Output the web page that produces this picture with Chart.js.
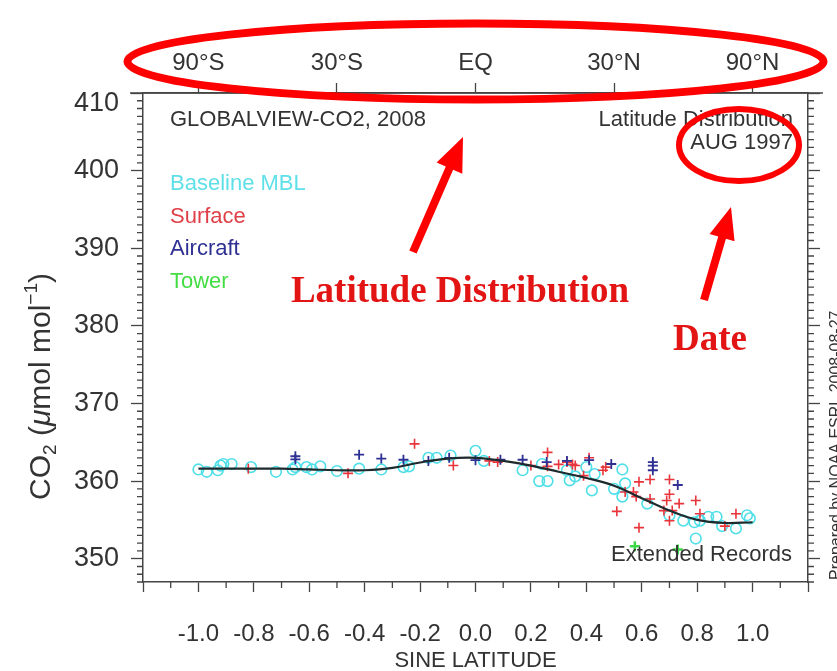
<!DOCTYPE html>
<html>
<head>
<meta charset="utf-8">
<script src="https://cdn.jsdelivr.net/npm/chart.js@4.4.1/dist/chart.umd.min.js"></script>
<style>
html,body{margin:0;padding:0;background:#fff;}
#wrap{width:837px;height:671px;}
</style>
</head>
<body>
<div id="wrap"><canvas id="co2Chart" width="837" height="671"></canvas></div>
<script>
// DATA (sine latitude, CO2 umol/mol) - GLOBALVIEW-CO2 Aug 1997

// reference MBL curve
const curveLat = [-1.0,-0.9,-0.8,-0.7,-0.6,-0.5,-0.4,-0.3,-0.2,-0.1,0.0,0.1,0.2,0.3,0.4,0.5,0.6,0.7,0.8,0.9,1.0];
const curveCO2 = [361.6,361.6,361.6,361.6,361.5,361.4,361.4,361.7,362.4,362.9,363.0,362.6,362.0,361.2,360.4,359.4,357.8,356.2,355.0,354.6,354.7];

// Baseline MBL sites
const mblLat = [-1.00,-0.97,-0.93,-0.92,-0.91,-0.88,-0.81,-0.72,-0.66,-0.65,-0.61,-0.59,-0.56,-0.50,-0.42,-0.34,-0.26,-0.24,-0.17,-0.14,-0.09,0.00,0.03,0.17,0.23,0.24,0.26,0.33,0.34,0.36,0.40,0.42,0.43,0.50,0.53,0.53,0.54,0.62,0.70,0.75,0.79,0.795,0.81,0.84,0.87,0.89,0.94,0.98,0.99];
const mblCO2 = [361.5,361.2,361.4,362.0,362.2,362.2,361.8,361.2,361.5,361.8,361.8,361.5,361.9,361.3,361.6,361.5,361.8,361.9,363.0,363.0,363.3,363.9,362.6,361.4,360.0,362.2,360.0,361.4,360.1,360.6,361.8,358.8,360.9,359.0,361.5,358.0,359.7,357.1,355.6,354.9,354.7,352.6,354.9,355.4,355.4,354.2,353.9,355.6,355.2];

// Surface sites
const surfaceLat = [-0.82,-0.46,-0.22,-0.08,0.05,0.08,0.20,0.26,0.26,0.30,0.33,0.35,0.36,0.39,0.41,0.46,0.47,0.51,0.54,0.57,0.58,0.59,0.59,0.63,0.63,0.68,0.69,0.70,0.70,0.70,0.71,0.735,0.795,0.81,0.90,0.94];
const surfaceCO2 = [361.6,361.0,364.8,362.0,362.6,362.45,362.0,363.7,361.9,362.15,362.45,362.15,362.0,360.7,363.0,361.4,361.8,356.1,358.6,358.6,358.0,359.9,354.0,360.2,357.7,356.2,357.5,360.2,358.3,354.9,356.2,357.1,357.5,355.8,354.2,355.8];

// Aircraft profiles
const aircraftLat = [-0.65,-0.65,-0.42,-0.34,-0.26,-0.17,-0.095,0.0,0.09,0.17,0.257,0.33,0.41,0.49,0.64,0.64,0.64,0.73];
const aircraftCO2 = [363.2,362.8,363.4,362.9,362.75,362.6,363.0,362.7,362.75,362.75,362.45,362.6,362.7,362.2,362.45,362.0,361.4,359.5];

// Tower sites
const towerLat = [0.575,0.73];
const towerCO2 = [351.6,351.2];

// top axis (latitude)
const topTickLat = [-1,-0.5,0,0.5,1];
const topTickLabels = ["90\u00B0S","30\u00B0S","EQ","30\u00B0N","90\u00B0N"];

const toPoints = (xs, ys) => xs.map((x, i) => ({x: x, y: ys[i]}));

const FONT = "'Liberation Sans', Arial, Helvetica, sans-serif";
const AXIS = "#444";

const isMajorX = v => Math.round(v * 10) % 2 === 0;
const isMajorY = v => Math.round(v) % 10 === 0;

// draws a run of text pieces along the baseline, returns the end x
function drawRuns(ctx, runs) {
let x = 0;
runs.forEach(r => {
ctx.font = r.font;
ctx.fillText(r.text, x, r.dy || 0);
x += ctx.measureText(r.text).width;
});
return x;
}

// minor ticks, extended top axis line, panel texts
const decorPlugin = {
id: "decorPlugin",
afterDraw(chart) {
const {ctx, chartArea: a, scales} = chart;
ctx.save();
ctx.strokeStyle = AXIS;
ctx.lineWidth = 1.3;
ctx.beginPath();
scales.x.ticks.forEach(t => {
if (isMajorX(t.value)) return;
const px = scales.x.getPixelForValue(t.value);
ctx.moveTo(px, a.bottom); ctx.lineTo(px, a.bottom + 6);
});
scales.y.ticks.forEach(t => {
if (isMajorY(t.value)) return;
const py = scales.y.getPixelForValue(t.value);
ctx.moveTo(a.left - 6, py); ctx.lineTo(a.left, py);
ctx.moveTo(a.right, py); ctx.lineTo(a.right + 6, py);
});
// top axis line runs past the frame
ctx.moveTo(a.left - 13, a.top); ctx.lineTo(a.right + 15, a.top);
ctx.stroke();

// texts in the panel
ctx.font = "22px " + FONT;
ctx.textBaseline = "middle";
ctx.fillStyle = "#333";
ctx.textAlign = "left";
ctx.fillText("GLOBALVIEW-CO2, 2008", a.left + 27, a.top + 27);
ctx.textAlign = "right";
ctx.fillText("Latitude Distribution", a.right - 15, a.top + 27);
ctx.fillText("AUG 1997", a.right - 15, a.top + 50);
ctx.fillText("Extended Records", a.right - 16, a.bottom - 27);

ctx.textAlign = "left";
const legend = [["Baseline MBL", "#5fe0e8"], ["Surface", "#e04048"], ["Aircraft", "#2e3192"], ["Tower", "#44dd44"]];
legend.forEach((l, i) => {
ctx.fillStyle = l[1];
ctx.fillText(l[0], a.left + 27, a.top + 91 + i * 32.7);
});

// y axis title, rotated
ctx.save();
ctx.translate(50, 500);
ctx.rotate(-Math.PI / 2);
ctx.fillStyle = "#333";
ctx.textAlign = "left";
ctx.textBaseline = "alphabetic";
const big = "30px " + FONT, small = "19px " + FONT;
drawRuns(ctx, [
{text: "CO", font: big},
{text: "2", font: small, dy: 6},
{text: " (", font: big},
{text: "\u03BC", font: "italic " + big},
{text: "mol mol", font: big},
{text: "\u22121", font: small, dy: -13},
{text: ")", font: big}
]);
ctx.restore();

// credit line on the right edge
ctx.save();
ctx.translate(841, 580);
ctx.rotate(-Math.PI / 2);
ctx.font = "16px " + FONT;
ctx.fillStyle = "#333";
ctx.textAlign = "left";
ctx.textBaseline = "alphabetic";
ctx.fillText("Prepared by NOAA ESRL 2008-08-27", 0, 0);
ctx.restore();

ctx.restore();
}
};

// red annotations drawn over the figure
function arrow(ctx, x1, y1, x2, y2, shaft, headLen, headW) {
const ang = Math.atan2(y2 - y1, x2 - x1);
const len = Math.hypot(x2 - x1, y2 - y1);
ctx.save();
ctx.translate(x1, y1);
ctx.rotate(ang);
ctx.beginPath();
ctx.moveTo(0, -shaft / 2);
ctx.lineTo(len - headLen, -shaft / 2);
ctx.lineTo(len - headLen, -headW / 2);
ctx.lineTo(len, 0);
ctx.lineTo(len - headLen, headW / 2);
ctx.lineTo(len - headLen, shaft / 2);
ctx.lineTo(0, shaft / 2);
ctx.closePath();
ctx.fill();
ctx.restore();
}

const annotatePlugin = {
id: "annotatePlugin",
afterDraw(chart) {
const {ctx} = chart;
ctx.save();
ctx.strokeStyle = "#f00";
ctx.fillStyle = "#f00";
ctx.lineWidth = 8;
ctx.beginPath();
ctx.ellipse(475.5, 61.5, 348, 38, 0, 0, Math.PI * 2);
ctx.stroke();
ctx.lineWidth = 6;
ctx.beginPath();
ctx.ellipse(739, 145, 60, 36, 0, 0, Math.PI * 2);
ctx.stroke();
arrow(ctx, 413, 252, 463, 137, 8, 34, 28);
arrow(ctx, 704, 300, 731, 207, 8, 32, 26);

ctx.fillStyle = "#e31414";
ctx.font = "bold 37px 'Liberation Serif', 'Times New Roman', serif";
ctx.textAlign = "center";
ctx.textBaseline = "middle";
ctx.fillText("Latitude Distribution", 460, 292);
ctx.fillText("Date", 710, 340);
ctx.restore();
}
};

new Chart(document.getElementById("co2Chart"), {
type: "scatter",
data: {
datasets: [
{
label: "Reference",
data: toPoints(curveLat, curveCO2),
showLine: true,
borderColor: "#1e2b2e",
borderWidth: 2.2,
pointRadius: 0,
tension: 0.4
},
{
label: "Aircraft",
data: toPoints(aircraftLat, aircraftCO2),
pointStyle: "cross",
pointRadius: 5,
borderColor: "#2e3192",
borderWidth: 1.8
},
{
label: "Surface",
data: toPoints(surfaceLat, surfaceCO2),
pointStyle: "cross",
pointRadius: 5,
borderColor: "#e8353b",
borderWidth: 1.6
},
{
label: "Tower",
data: toPoints(towerLat, towerCO2),
pointStyle: "cross",
pointRadius: 5,
borderColor: "#3fd84a",
borderWidth: 2.5
},
{
label: "Baseline MBL",
data: toPoints(mblLat, mblCO2),
pointStyle: "circle",
pointRadius: 5.3,
backgroundColor: "rgba(0,0,0,0)",
borderColor: "#4fdfe8",
borderWidth: 1.6
}
]
},
options: {
responsive: false,
animation: false,
devicePixelRatio: 1,
layout: {padding: 0},
plugins: {
legend: {display: false},
tooltip: {enabled: false}
},
scales: {
x: {
type: "linear",
position: "bottom",
min: -1.2,
max: 1.2,
afterFit(s) { s.height = 89; },
ticks: {
stepSize: 0.1,
autoSkip: false,
maxRotation: 0,
padding: 28,
color: "#333",
font: {family: FONT, size: 24},
callback: v => {
const k = Math.round(v * 10);
if (Math.abs(k) > 10 || k % 2) return "";
return (k / 10).toFixed(1);
}
},
grid: {
drawOnChartArea: false,
tickLength: 10,
tickWidth: 1.3,
tickColor: c => isMajorX(c.tick.value) ? AXIS : "rgba(0,0,0,0)"
},
border: {color: AXIS, width: 1.5},
title: {
display: true,
text: "SINE LATITUDE",
color: "#333",
font: {family: FONT, size: 22, lineHeight: 1.0},
padding: {top: 0, bottom: -1}
}
},
x2: {
type: "linear",
position: "top",
min: -1.2,
max: 1.2,
afterFit(s) { s.height = 93; },
afterBuildTicks(s) { s.ticks = topTickLat.map(v => ({value: v})); },
ticks: {
autoSkip: false,
maxRotation: 0,
padding: 5,
color: "#333",
font: {family: FONT, size: 24},
callback: (v, i) => topTickLabels[i]
},
grid: {
drawOnChartArea: false,
tickLength: 10,
tickWidth: 1.3,
tickColor: AXIS
},
border: {color: AXIS, width: 1.5}
},
y: {
type: "linear",
position: "left",
min: 347,
max: 410,
afterFit(s) { s.width = 143; },
ticks: {
stepSize: 1,
autoSkip: false,
padding: 12,
color: "#333",
font: {family: FONT, size: 27, lineHeight: 0.8},
// the top label sits just under its tick, as in the original
callback: v => {
if (!isMajorY(v)) return "";
const s = String(Math.round(v));
return v >= 410 ? ["", s] : s;
}
},
grid: {
drawOnChartArea: false,
tickLength: 12,
tickWidth: 1.3,
tickColor: c => isMajorY(c.tick.value) ? AXIS : "rgba(0,0,0,0)"
},
border: {color: AXIS, width: 1.5}
},
y2: {
type: "linear",
position: "right",
min: 347,
max: 410,
afterFit(s) { s.width = 29; },
ticks: {
stepSize: 1,
autoSkip: false,
display: false
},
grid: {
drawOnChartArea: false,
tickLength: 12,
tickWidth: 1.3,
tickColor: c => isMajorY(c.tick.value) ? AXIS : "rgba(0,0,0,0)"
},
border: {color: AXIS, width: 1.5}
}
}
},
plugins: [decorPlugin, annotatePlugin]
});
</script>
</body>
</html>
